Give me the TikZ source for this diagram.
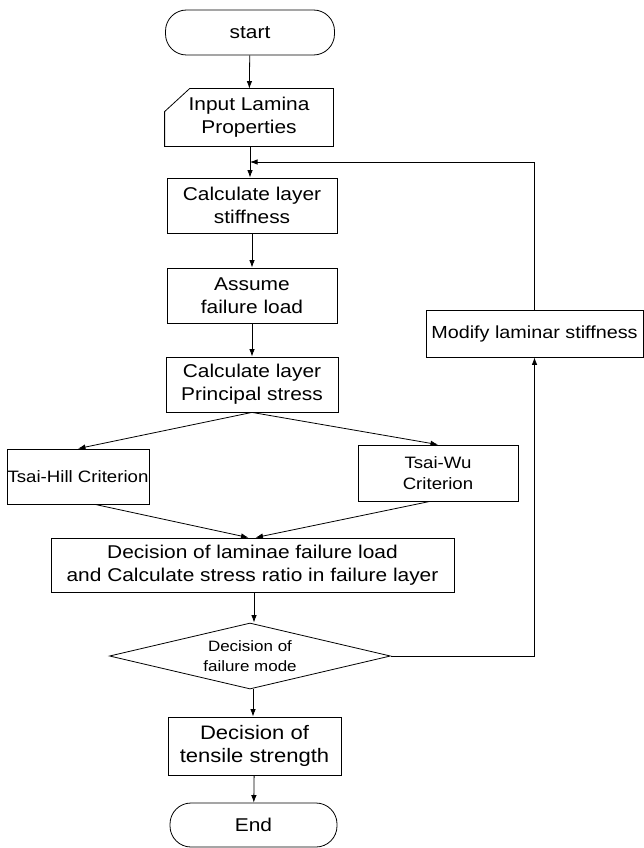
\documentclass[tikz,border=0pt]{standalone}
\usepackage{fontspec}
\setmainfont[FakeStretch=1.13]{Liberation Sans}
\usetikzlibrary{shapes.geometric,arrows.meta}

\tikzset{
  box/.style={draw, align=center, inner sep=0pt, line width=0.8pt,
              font=\fontsize{18.5}{23}\selectfont},
  term/.style={box, rounded corners=21pt},
  decision/.style={box, diamond, shape aspect=4.26,
              font=\fontsize{15}{20}\selectfont}
}

\begin{document}
\begin{tikzpicture}[x=1pt, y=-1pt, line width=0.8pt,
                    >={Latex[length=7.5pt,width=5.5pt]}]

  \useasboundingbox (0,0) rectangle (644,848);

  % main column
  \node [term, minimum width=169, minimum height=45] (start) at (250,32.5) {start};
  \node [minimum width=168, minimum height=57, align=center, inner sep=0pt,
         font=\fontsize{18.5}{23}\selectfont] (input) at (249,117.5)
        {Input Lamina\\Properties};
  \draw ([yshift=-23pt]input.north west) -- ([xshift=25pt]input.north west)
        -- (input.north east) -- (input.south east) -- (input.south west) -- cycle;
  \node [box, minimum width=170, minimum height=55] (stiff)  at (252,205.5)
        {Calculate layer\\stiffness};
  \node [box, minimum width=170, minimum height=55] (assume) at (252,295.5)
        {Assume\\failure load};
  \node [box, minimum width=172, minimum height=55] (princ)  at (252,384.5)
        {Calculate layer\\Principal stress};

  % criteria
  \node [box, minimum width=142, minimum height=55,
         font=\fontsize{16.5}{21}\selectfont] (hill) at (78,476.5)
        {Tsai-Hill Criterion};
  \node [box, minimum width=160, minimum height=56,
         font=\fontsize{16.5}{21}\selectfont] (wu) at (438,473)
        {Tsai-Wu\\Criterion};

  \node [box, minimum width=403, minimum height=54] (decide) at (252.5,565)
        {Decision of laminae failure load\\and Calculate stress ratio in failure layer};
  \node [decision, minimum width=281, minimum height=66] (mode) at (250,656)
        {Decision of\\failure mode};
  \node [box, minimum width=173, minimum height=58,
         font=\fontsize{19.5}{23}\selectfont] (tensile) at (254.5,746)
        {Decision of\\tensile strength};
  \node [term, minimum width=167, minimum height=44] (end) at (253.5,825) {End};

  % feedback
  \node [box, minimum width=217, minimum height=47,
         font=\fontsize{17.5}{21}\selectfont] (modify) at (534.5,333.5)
        {Modify laminar stiffness};
  \coordinate (join) at (250,162);

  \draw [->] (start) -- (input);
  \draw [->] (input.south -| join) -- (stiff.north -| join);
  \draw [->] (stiff) -- (assume);
  \draw [->] (assume) -- (princ);
  \draw [->] (princ.south) -- (hill.north);
  \draw [->] (princ.south) -- (wu.north);
  \draw [->] ([xshift=17pt]hill.south) -- ([xshift=-4pt]decide.north);
  \draw [->] ([xshift=-8pt]wu.south) -- ([xshift=3pt]decide.north);
  \draw [->] (decide.south -| 254,0) -- (mode.north -| 254,0);
  \draw [->] (mode.south -| 253,0) -- (tensile.north -| 253,0);
  \draw [->] (tensile) -- (end);

  \draw [->] (mode.east) -| (modify.south);
  \draw [->] (modify.north) |- (join);

\end{tikzpicture}
\end{document}
